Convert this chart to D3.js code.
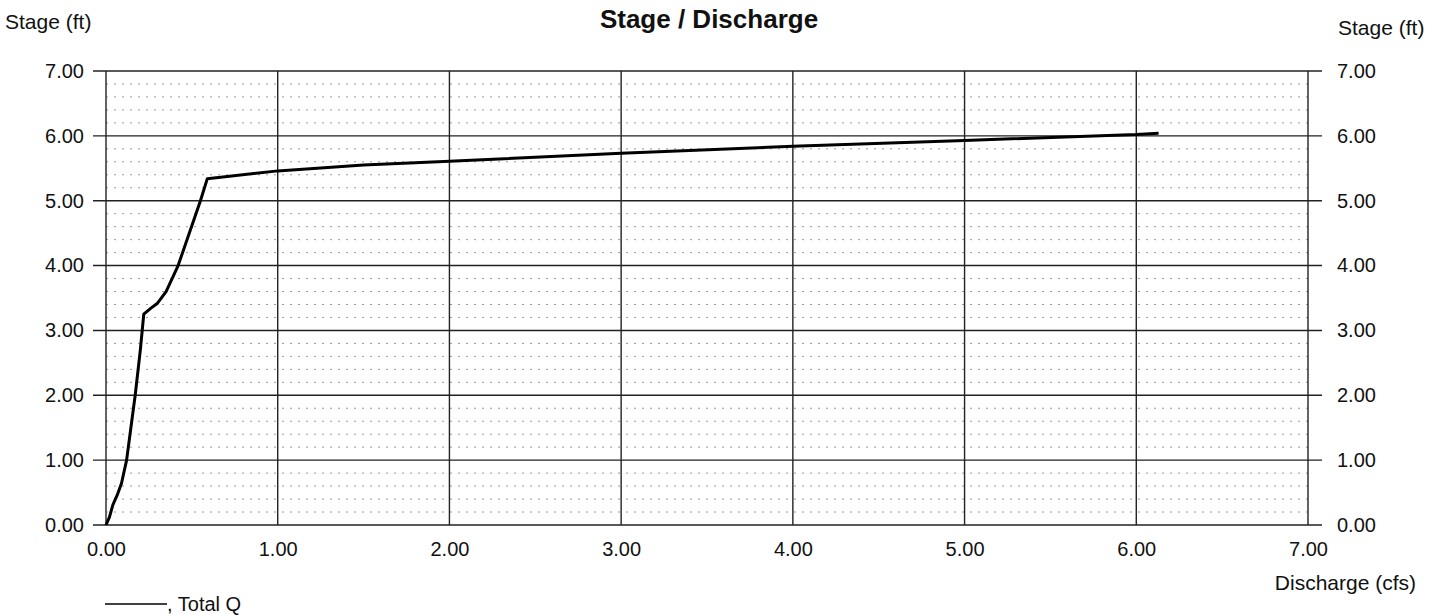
<!DOCTYPE html>
<html>
<head>
<meta charset="utf-8">
<script src="https://cdn.jsdelivr.net/npm/d3@7"></script>
<style>
  html, body { margin: 0; padding: 0; background: #fff; }
  svg { display: block; font-family: "Liberation Sans", Arial, sans-serif; }
</style>
</head>
<body>
<svg id="chart" width="1435" height="615"></svg>
<script>
// ---- Data ----
const discharge = [0, 0.02, 0.04, 0.065, 0.09, 0.12, 0.17, 0.20, 0.22, 0.26, 0.30, 0.35, 0.42, 0.55, 0.59, 1.00, 1.50, 2.00, 3.00, 4.00, 5.00, 6.00, 6.13];
const stage     = [0, 0.12, 0.31, 0.46, 0.64, 1.00, 2.00, 2.70, 3.25, 3.34, 3.42, 3.60, 4.00, 5.00, 5.34, 5.46, 5.55, 5.61, 5.73, 5.84, 5.93, 6.02, 6.04];
const xTicks = [0, 1, 2, 3, 4, 5, 6, 7];
const yTicks = [0, 1, 2, 3, 4, 5, 6, 7];
const yMinor = [0.2, 0.4, 0.6, 0.8, 1.2, 1.4, 1.6, 1.8, 2.2, 2.4, 2.6, 2.8, 3.2, 3.4, 3.6, 3.8, 4.2, 4.4, 4.6, 4.8, 5.2, 5.4, 5.6, 5.8, 6.2, 6.4, 6.6, 6.8];
const seriesName = "Total Q";

// ---- Layout ----
const L = 106, R = 1308, T = 71, B = 525;
const svg = d3.select("#chart");
const x = d3.scaleLinear().domain([0, 7]).range([L, R]);
const y = d3.scaleLinear().domain([0, 7]).range([B, T]);

// minor gridlines (dotted)
svg.append("g").selectAll("line").data(yMinor).join("line")
  .attr("x1", L).attr("x2", R)
  .attr("y1", d => y(d)).attr("y2", d => y(d))
  .attr("stroke", "#444").attr("stroke-width", 1)
  .attr("stroke-opacity", 0.55)
  .attr("stroke-dasharray", "2,6");

// major horizontal gridlines with outer ticks both sides
svg.append("g").selectAll("line").data(yTicks).join("line")
  .attr("x1", L - 13).attr("x2", R + 14)
  .attr("y1", d => y(d)).attr("y2", d => y(d))
  .attr("stroke", "#222").attr("stroke-width", 1.4);

// vertical gridlines
svg.append("g").selectAll("line").data(xTicks).join("line")
  .attr("x1", d => x(d)).attr("x2", d => x(d))
  .attr("y1", T).attr("y2", B)
  .attr("stroke", "#222").attr("stroke-width", 1.4);

// axis labels via d3 axes (lines hidden)
const fmt = d3.format(".2f");
const gl = svg.append("g").attr("transform", `translate(${L - 13},0)`)
  .call(d3.axisLeft(y).tickValues(yTicks).tickFormat(fmt).tickSize(0).tickPadding(9));
const gr = svg.append("g").attr("transform", `translate(${R + 14},0)`)
  .call(d3.axisRight(y).tickValues(yTicks).tickFormat(fmt).tickSize(0).tickPadding(15));
const gb = svg.append("g").attr("transform", `translate(0,${B})`)
  .call(d3.axisBottom(x).tickValues(xTicks).tickFormat(fmt).tickSize(0).tickPadding(17));
[gl, gr, gb].forEach(g => {
  g.select(".domain").remove();
  g.selectAll("text").attr("font-size", 20).attr("fill", "#111")
    .attr("font-family", "\"Liberation Sans\", Arial, sans-serif");
});

// curve
const pts = discharge.map((d, i) => [d, stage[i]]);
svg.append("path").datum(pts)
  .attr("d", d3.line().x(d => x(d[0])).y(d => y(d[1])))
  .attr("fill", "none").attr("stroke", "#000").attr("stroke-width", 3)
  .attr("stroke-linejoin", "round");

// titles
svg.append("text").attr("x", 709).attr("y", 28).attr("text-anchor", "middle")
  .attr("font-size", 26).attr("font-weight", "bold").attr("fill", "#111")
  .text("Stage / Discharge");
svg.append("text").attr("x", 5).attr("y", 29).attr("font-size", 21).attr("fill", "#111")
  .text("Stage (ft)");
svg.append("text").attr("x", 1338).attr("y", 35).attr("font-size", 21).attr("fill", "#111")
  .text("Stage (ft)");
svg.append("text").attr("x", 1416).attr("y", 590).attr("text-anchor", "end")
  .attr("font-size", 21).attr("fill", "#111").text("Discharge (cfs)");

// legend
svg.append("line").attr("x1", 105).attr("x2", 167).attr("y1", 604).attr("y2", 604)
  .attr("stroke", "#000").attr("stroke-width", 1.6);
svg.append("text").attr("x", 167).attr("y", 611).attr("font-size", 20).attr("fill", "#111")
  .text(", " + seriesName);
</script>
</body>
</html>
